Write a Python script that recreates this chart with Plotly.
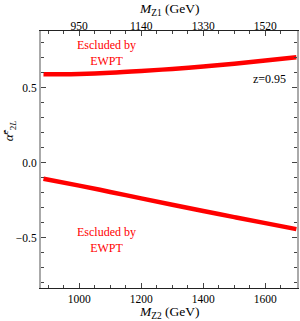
import plotly.graph_objects as go

# Data
mz2_upper = [885, 950, 1000, 1100, 1200, 1300, 1400, 1500, 1600, 1700]
alpha_upper = [0.592, 0.591, 0.593, 0.601, 0.613, 0.627, 0.643, 0.662, 0.683, 0.705]
mz2_lower = [885, 1000, 1100, 1200, 1300, 1400, 1500, 1600, 1700]
alpha_lower = [-0.106, -0.152, -0.194, -0.237, -0.279, -0.321, -0.362, -0.402, -0.442]

bottom_ticks = [1000, 1200, 1400, 1600]
top_ticks = [950, 1140, 1330, 1520]
y_ticks = [0.5, 0.0, -0.5]
y_ticklabels = ["0.5", "0.0", "\u22120.5"]
z = 0.95

xr = [877, 1702]
yr = [-0.835, 0.88]

RED = "#ff0000"
FONT = "Liberation Serif"

fig = go.Figure()
fig.add_trace(go.Scatter(x=mz2_upper, y=alpha_upper, mode="lines",
                         line=dict(color=RED, width=4.5, shape="spline"),
                         showlegend=False, hoverinfo="skip"))
fig.add_trace(go.Scatter(x=mz2_lower, y=alpha_lower, mode="lines",
                         line=dict(color=RED, width=4.5, shape="spline"),
                         showlegend=False, hoverinfo="skip"))
# empty traces to register top / right axes
fig.add_trace(go.Scatter(x=[], y=[], xaxis="x2", yaxis="y2", showlegend=False))

tickfont = dict(family=FONT, size=11.5, color="black")

fig.update_layout(
    width=300, height=321,
    margin=dict(l=41, r=3, t=31, b=33),
    paper_bgcolor="white", plot_bgcolor="white",
    xaxis=dict(range=xr, showgrid=False, zeroline=False,
               showline=True, linecolor="#222222", linewidth=1,
               ticks="inside", ticklen=5, tickcolor="#444444",
               tickvals=bottom_ticks, ticktext=[str(v) for v in bottom_ticks],
               tickfont=tickfont,
               minor=dict(dtick=50, ticks="inside", ticklen=3, tickcolor="#444444", showgrid=False)),
    xaxis2=dict(range=[z * xr[0], z * xr[1]], overlaying="x", side="top", anchor="y",
                showgrid=False, zeroline=False,
                showline=True, linecolor="#222222", linewidth=1,
                ticks="inside", ticklen=5, tickcolor="#444444",
                tickvals=top_ticks, ticktext=[str(v) for v in top_ticks],
                tickfont=tickfont, ticklabelstandoff=-5,
                minor=dict(dtick=47.5, tick0=950, ticks="inside", ticklen=3, tickcolor="#444444", showgrid=False)),
    yaxis=dict(range=yr, showgrid=False, zeroline=False,
               showline=True, linecolor="#aaaaaa", linewidth=2,
               ticks="inside", ticklen=5, tickcolor="#444444",
               tickvals=y_ticks, ticktext=y_ticklabels,
               tickfont=tickfont,
               minor=dict(dtick=0.1, tick0=0, ticks="inside", ticklen=3, tickcolor="#444444", showgrid=False)),
    yaxis2=dict(range=yr, overlaying="y", side="right", anchor="x",
                showgrid=False, zeroline=False,
                showline=True, linecolor="#aaaaaa", linewidth=2,
                ticks="inside", ticklen=5, tickcolor="#444444",
                tickvals=y_ticks, showticklabels=False,
                minor=dict(dtick=0.1, tick0=0, ticks="inside", ticklen=3, tickcolor="#444444", showgrid=False)),
)

ann_font_red = dict(family=FONT, size=12, color=RED)
fig.add_annotation(x=1087, y=0.73, xref="x", yref="y", text="Escluded by<br>EWPT",
                   showarrow=False, font=ann_font_red, align="center")
fig.add_annotation(x=1087, y=-0.515, xref="x", yref="y", text="Escluded by<br>EWPT",
                   showarrow=False, font=ann_font_red, align="center")
fig.add_annotation(x=1612, y=0.56, xref="x", yref="y", text="z=0.95",
                   showarrow=False, font=dict(family=FONT, size=12, color="black"))

title_font = dict(family=FONT, size=13.5, color="black")
fig.add_annotation(x=0.5, y=0, xref="paper", yref="paper", yshift=-24, yanchor="middle",
                   text="<i>M</i><sub>Z2</sub> (GeV)", showarrow=False, font=title_font)
fig.add_annotation(x=0.5, y=1, xref="paper", yref="paper", yshift=22, yanchor="middle",
                   text="<i>M</i><sub>Z1</sub> (GeV)", showarrow=False, font=title_font)
fig.add_annotation(x=0, y=0.61, xref="paper", yref="paper", xshift=-32, xanchor="center",
                   text="<i>\u03b1\u0302</i><sup>e</sup><sub>2<i>L</i></sub>", textangle=-90,
                   showarrow=False, font=dict(family=FONT, size=13, color="black"))

fig.write_html("out.html", config={"displayModeBar": False},
               post_script="document.body.style.margin='0';document.body.style.overflow='hidden';")
